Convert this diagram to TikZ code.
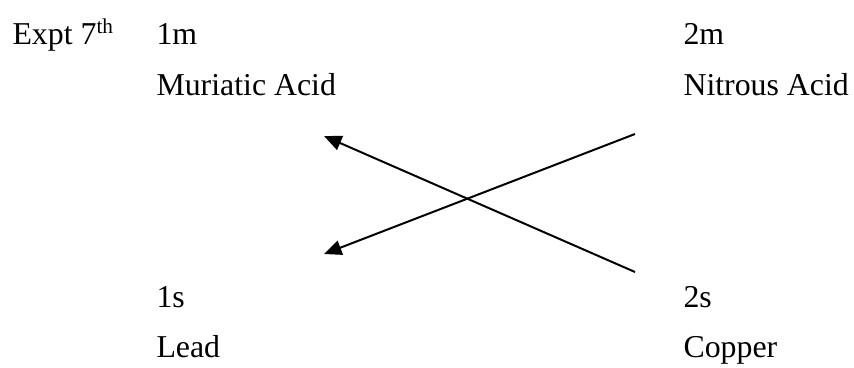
\documentclass[tikz,border=0pt]{standalone}
\usepackage{fontspec}
\setmainfont{Liberation Serif}
\usetikzlibrary{arrows.meta}

\begin{document}
\begin{tikzpicture}[
  x=0.377pt, y=-0.377pt,
  word/.style={anchor=base west, inner sep=0pt, font=\fontsize{12}{14}\selectfont},
  edge/.style={-{Triangle[length=6.6pt, width=5.6pt]}, line width=0.75pt}
]
\useasboundingbox (0,0) rectangle (854,367);

\node[word] (expt) at (12,45) {Expt 7\textsuperscript{th}};
\node[word] (m1) at (156,45) {1m};
\node[word] (m2) at (683,45) {2m};
\node[word] (acid1) at (156,96) {Muriatic Acid};
\node[word] (acid2) at (683,96) {Nitrous Acid};
\node[word] (s1) at (156,307) {1s};
\node[word] (s2) at (683,307) {2s};
\node[word] (metal1) at (156,357) {Lead};
\node[word] (metal2) at (683,357) {Copper};

% free ends of the two crossing arrows
\coordinate (nitrous) at (635,134);
\coordinate (copper) at (635,272);
\coordinate (muriatic) at (324,136);
\coordinate (lead) at (324,254);

\draw[edge] (nitrous) -- (lead);
\draw[edge] (copper) -- (muriatic);
\end{tikzpicture}
\end{document}
